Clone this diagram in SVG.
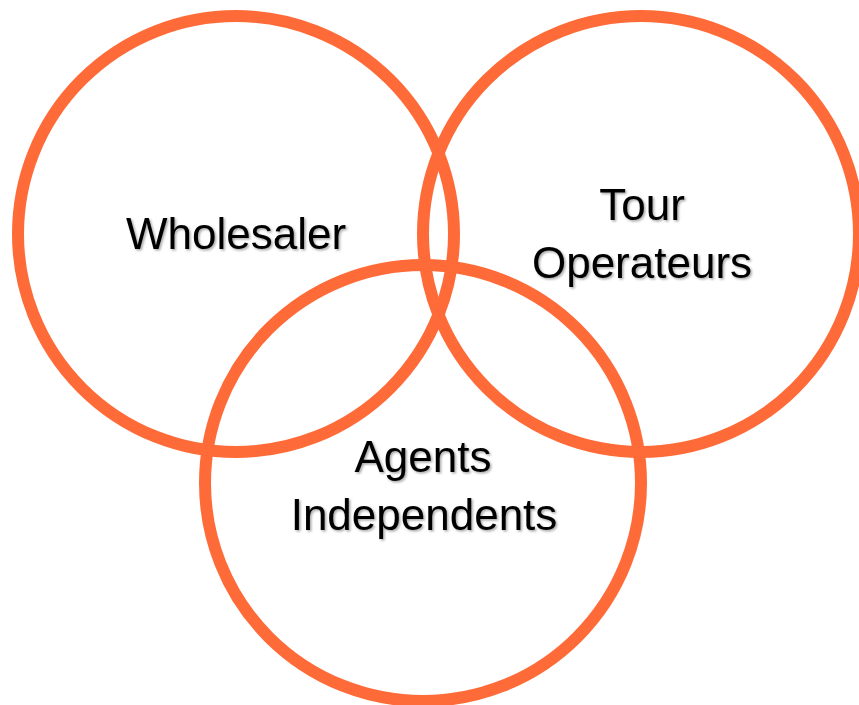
<svg xmlns="http://www.w3.org/2000/svg" width="859" height="705" viewBox="0 0 859 705">
  <defs>
    <style>
      .ring { fill: none; stroke: #FF6B38; stroke-width: 12; }
      .label { font-family: "Liberation Sans", "Open Sans", sans-serif; font-size: 44px; fill: #000; text-anchor: middle; filter: url(#shadow); }
    </style>
    <filter id="shadow" x="-10%" y="-30%" width="120%" height="160%">
      <feDropShadow dx="1.5" dy="1.5" stdDeviation="1.2" flood-color="#000" flood-opacity="0.35"/>
    </filter>
  </defs>
  <rect width="859" height="705" fill="#fff"/>
  <g id="wholesaler">
    <circle class="ring" cx="236" cy="234" r="218"/>
    <text class="label" x="236" y="249">Wholesaler</text>
  </g>
  <g id="tour-operateurs">
    <circle class="ring" cx="641" cy="234" r="218"/>
    <text class="label" x="642" y="220">Tour</text>
    <text class="label" x="642" y="278">Operateurs</text>
  </g>
  <g id="agents-independents">
    <circle class="ring" cx="423" cy="483" r="218"/>
    <text class="label" x="423" y="472">Agents</text>
    <text class="label" x="424" y="530">Independents</text>
  </g>
  <g id="connectors"></g>
</svg>
